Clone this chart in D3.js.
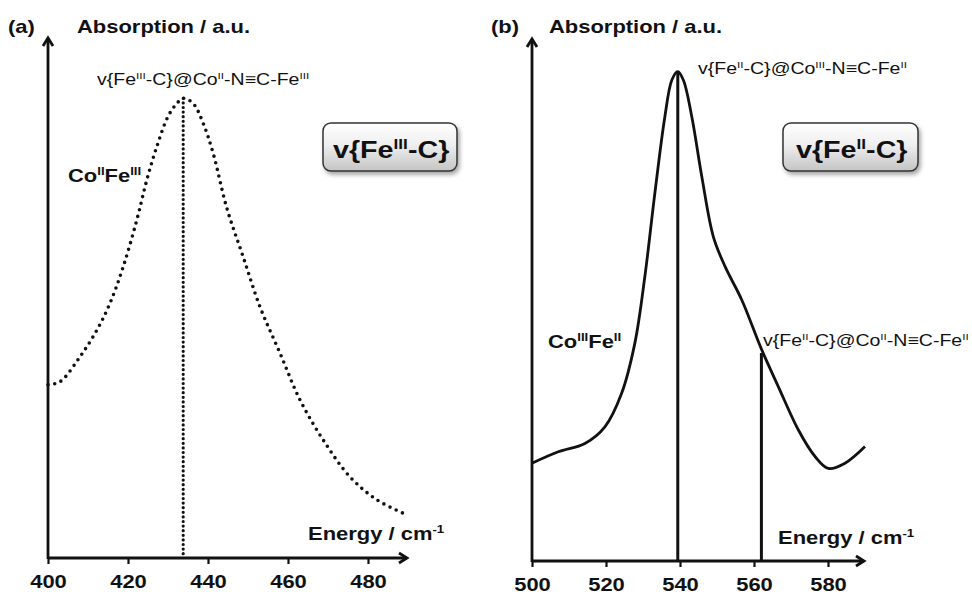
<!DOCTYPE html>
<html><head><meta charset="utf-8">
<script src="https://cdn.jsdelivr.net/npm/d3@7"></script>
<style>
body{margin:0;background:#fff;}
svg{display:block;font-family:"Liberation Sans",Arial,sans-serif;}
</style></head>
<body><svg id="c" width="972" height="596"></svg>
<script>
// ---- data ----
const aEnergy = [400.0,403,408,412.2,415.5,418.8,422.2,424.7,427.2,430,432.2,433.8,436.3,438.8,441.3,444.7,448.8,453,458,463,468.8,475.5,482.2,489.7];
const aAbs    = [33.3,33.9,38.7,43.8,49.0,56.0,65.0,72.7,79.1,84.9,87.4,88.4,87.4,83.6,77.8,67.3,57.9,48.3,39.4,30.4,22.7,15.6,11.2,8.3];
const bEnergy = [500,507.1,514.3,519.7,524.2,527.8,530.5,533.2,535.9,537.8,539.4,540.9,543.2,545.9,549,552.2,556.7,562.1,566.6,572,576.5,580.1,584.6,590];
const bAbs    = [18.8,21.0,22.6,25.8,32.2,41.9,54.7,70.7,85.4,92.5,94.1,92.5,85.4,73.9,62.4,56.6,50.2,40.6,33.5,25.2,20.1,17.8,18.8,22.0];
const aTicks = [400,420,440,460,480];
const bTicks = [500,520,540,560,580];
const aMarkers = [{e:433.8, top:88.4}];
const bMarkers = [{e:539.4, top:94.1},{e:562.0, top:40.0}];

const svg = d3.select("#c");
const SX = 1.22;

const defs = svg.append("defs");
const grad = defs.append("linearGradient").attr("id","boxg").attr("x1",0).attr("y1",0).attr("x2",0).attr("y2",1);
grad.append("stop").attr("offset","0%").attr("stop-color","#ffffff");
grad.append("stop").attr("offset","45%").attr("stop-color","#efefef");
grad.append("stop").attr("offset","100%").attr("stop-color","#c4c4c4");
const f = defs.append("filter").attr("id","sh").attr("x","-20%").attr("y","-20%").attr("width","150%").attr("height","160%");
f.append("feDropShadow").attr("dx",2).attr("dy",3).attr("stdDeviation",2).attr("flood-color","#000").attr("flood-opacity",0.35);

function rich(x, y, segs, size, weight){
  const g = svg.append("g").attr("transform",`translate(${x},${y}) scale(${SX},1)`);
  const t = g.append("text").attr("font-size",size).attr("font-weight",weight).attr("fill","#111");
  let up = false;
  segs.forEach(([s, sup])=>{
    const ts = t.append("tspan").text(s);
    if (sup && !up){ ts.attr("dy", -size*0.4).attr("font-size", size*0.6); up = true; }
    else if (sup && up){ ts.attr("font-size", size*0.6); }
    else if (!sup && up){ ts.attr("dy", size*0.4); up = false; }
  });
  return g;
}

function arrowHead(x, y, dir){
  const p = d3.path();
  if (dir === "up"){ p.moveTo(x-5, y+8); p.lineTo(x, y); p.lineTo(x+5, y+8); }
  else { p.moveTo(x-8, y-5); p.lineTo(x, y); p.lineTo(x-8, y+5); }
  svg.append("path").attr("d", p.toString()).attr("fill","none").attr("stroke","#111").attr("stroke-width",2.8).attr("stroke-linejoin","miter");
}

function panel(cfg){
  const x = d3.scaleLinear().domain(cfg.xdom).range(cfg.xr);
  const y = d3.scaleLinear().domain([0,100]).range(cfg.yr);
  const x0 = cfg.xr[0], y0 = cfg.yr[0];
  const ax = svg.append("g").attr("transform",`translate(0,${y0})`)
    .call(d3.axisBottom(x).tickValues(cfg.ticks).tickSize(6).tickPadding(11).tickFormat(d3.format("d")));
  ax.select(".domain").remove();
  ax.selectAll(".tick line").attr("stroke","#111").attr("stroke-width",2.2);
  ax.selectAll(".tick text").attr("font-size",18).attr("font-weight","bold").attr("fill","#111")
    .attr("font-family","Liberation Sans, Arial, sans-serif").attr("transform",`scale(${SX},1)`);
  svg.append("line").attr("x1",x0).attr("x2",cfg.xEnd).attr("y1",y0).attr("y2",y0).attr("stroke","#111").attr("stroke-width",2.8);
  svg.append("line").attr("x1",x0).attr("x2",x0).attr("y1",y0+1).attr("y2",cfg.yTop).attr("stroke","#111").attr("stroke-width",2.8);
  arrowHead(cfg.xEnd, y0, "right");
  arrowHead(x0, cfg.yTop, "up");
  cfg.markers.forEach(m=>{
    const l = svg.append("line").attr("x1",x(m.e)).attr("x2",x(m.e)).attr("y1",y(m.top)).attr("y2",y0)
      .attr("stroke","#111");
    if (cfg.dotted) l.attr("stroke-width",3.2).attr("stroke-dasharray","0 4.6").attr("stroke-linecap","round");
    else l.attr("stroke-width",3);
  });
  const line = d3.line().x(d=>x(d[0])).y(d=>y(d[1])).curve(d3.curveCatmullRom.alpha(0.5));
  const pts = cfg.energy.map((e,i)=>[e, cfg.abs[i]]);
  const c = svg.append("path").attr("d", line(pts)).attr("fill","none").attr("stroke","#111");
  if (cfg.dotted) c.attr("stroke-width",3.6).attr("stroke-dasharray","0 6.8").attr("stroke-linecap","round");
  else c.attr("stroke-width",2.8);
}

panel({xdom:[400,490], xr:[48,408], yr:[558,38], xEnd:407, yTop:38, ticks:aTicks,
  energy:aEnergy, abs:aAbs, markers:aMarkers, dotted:true});
panel({xdom:[500,580], xr:[532,828], yr:[561,41], xEnd:864, yTop:39, ticks:bTicks,
  energy:bEnergy, abs:bAbs, markers:bMarkers, dotted:false});

function box(x0,y0,x1,y1){
  svg.append("rect").attr("x",x0).attr("y",y0).attr("width",x1-x0).attr("height",y1-y0).attr("rx",8)
    .attr("fill","url(#boxg)").attr("stroke","#333").attr("stroke-width",1.5).attr("filter","url(#sh)");
}
box(323,123,457,171);
box(783,123,918,171);

rich(8,33,[["(a)",0]],18,"bold");
rich(77,33,[["Absorption / a.u.",0]],18,"bold");
rich(97,85,[["v{Fe",0],["III",1],["-C}@Co",0],["II",1],["-N≡C-Fe",0],["III",1]],16,"normal");
rich(68,182,[["Co",0],["II",1],["Fe",0],["III",1]],18,"bold");
rich(333,158,[["v{Fe",0],["III",1],["-C}",0]],23.5,"bold");
rich(308,540,[["Energy / cm",0],["-1",1]],18,"bold");

rich(491,33,[["(b)",0]],18,"bold");
rich(549,33,[["Absorption / a.u.",0]],18,"bold");
rich(698,74,[["v{Fe",0],["II",1],["-C}@Co",0],["III",1],["-N≡C-Fe",0],["II",1]],16,"normal");
rich(548,348,[["Co",0],["III",1],["Fe",0],["II",1]],18,"bold");
rich(763,346,[["v{Fe",0],["II",1],["-C}@Co",0],["II",1],["-N≡C-Fe",0],["II",1]],16,"normal");
rich(796,158,[["v{Fe",0],["II",1],["-C}",0]],23.5,"bold");
rich(778,544,[["Energy / cm",0],["-1",1]],18,"bold");
</script></body></html>
